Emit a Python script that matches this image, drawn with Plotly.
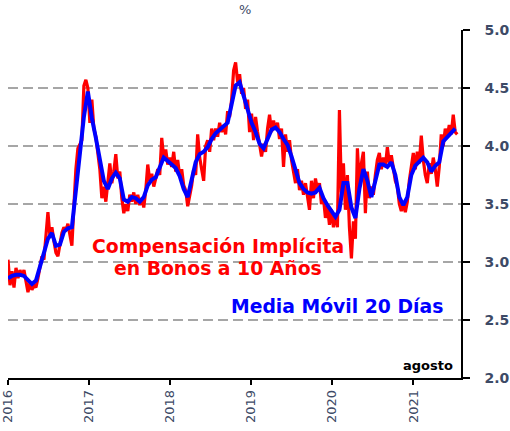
import pandas as pd
import plotly.graph_objects as go

# Compensación implícita en bonos a 10 años (%), una observación cada 9 días desde enero 2016
implicita = [
    3.02, 2.80, 2.92, 2.78, 2.95, 2.86, 2.93, 2.88, 2.93, 2.85,
    2.74, 2.82, 2.76, 2.80, 2.78, 2.86, 2.96, 3.05, 3.02, 3.20,
    3.43, 3.22, 3.30, 3.18, 3.08, 3.05, 3.15, 3.25, 3.30, 3.27,
    3.33, 3.25, 3.14, 3.48, 3.80, 3.98, 4.02, 4.05, 4.52, 4.57,
    4.50, 4.20, 4.40, 4.15, 4.08, 3.92, 3.80, 3.55, 3.65, 3.52,
    3.70, 3.85, 3.68, 3.78, 3.93, 3.72, 3.78, 3.55, 3.42, 3.50,
    3.44, 3.58, 3.52, 3.60, 3.50, 3.58, 3.49, 3.55, 3.47, 3.62,
    3.84, 3.70, 3.76, 3.65, 3.72, 3.80, 3.75, 4.07, 3.90, 3.97,
    3.84, 3.90, 3.82, 3.95, 3.78, 3.88, 3.74, 3.80, 3.66, 3.62,
    3.48, 3.56, 3.66, 3.80, 3.75, 4.10, 3.90, 3.80, 3.70, 4.00,
    4.05, 3.95, 4.15, 4.05, 4.15, 4.08, 4.20, 4.12, 4.18, 4.10,
    4.30, 4.25, 4.40, 4.65, 4.72, 4.55, 4.62, 4.45, 4.50, 4.32,
    4.40, 4.12, 4.28, 4.05, 4.25, 4.12, 4.00, 3.91, 4.02, 3.95,
    4.15, 4.27, 4.12, 4.22, 4.14, 4.20, 4.06, 4.15, 3.82, 4.10,
    3.95, 4.05, 3.88, 3.78, 3.68, 3.80, 3.62, 3.70, 3.58, 3.68,
    3.55, 3.45, 3.70, 3.55, 3.72, 3.62, 3.68, 3.50, 3.55, 3.38,
    3.48, 3.32, 3.45, 3.30, 3.42, 3.30, 4.31, 3.60, 3.85, 3.45,
    3.75, 3.30, 3.03, 3.35, 3.20, 3.98, 3.65, 3.85, 3.95, 3.42,
    3.78, 3.55, 3.65, 3.58, 3.75, 3.88, 3.94, 3.80, 3.90, 3.82,
    3.99, 3.85, 3.92, 3.80, 3.70, 3.65, 3.50, 3.44, 3.50, 3.43,
    3.52, 3.70, 3.85, 3.94, 3.80, 3.95, 3.85, 4.09, 3.88, 3.75,
    3.68, 3.85, 3.76, 3.90, 3.80, 3.65, 3.82, 4.10, 4.00, 4.15,
    4.08, 4.18, 4.10, 4.27, 4.12, 4.10,
]

# Media móvil de 20 días (%), una observación cada 18 días desde enero 2016
media_movil = [
    2.86, 2.88, 2.89, 2.89, 2.88, 2.84, 2.81, 2.84, 2.95, 3.08,
    3.20, 3.25, 3.14, 3.15, 3.26, 3.29, 3.30, 3.62, 3.94, 4.25,
    4.47, 4.24, 4.07, 3.90, 3.70, 3.63, 3.72, 3.77, 3.72, 3.54,
    3.52, 3.56, 3.55, 3.52, 3.56, 3.66, 3.71, 3.73, 3.81, 3.90,
    3.87, 3.84, 3.81, 3.74, 3.63, 3.56, 3.70, 3.86, 3.93, 3.95,
    3.99, 4.06, 4.11, 4.14, 4.16, 4.20, 4.36, 4.52, 4.55, 4.43,
    4.31, 4.20, 4.12, 4.02, 3.98, 4.06, 4.14, 4.16, 4.12, 4.06,
    4.01, 3.91, 3.79, 3.68, 3.63, 3.60, 3.59, 3.60, 3.64, 3.55,
    3.49, 3.44, 3.39, 3.45, 3.68, 3.68, 3.47, 3.38, 3.63, 3.80,
    3.70, 3.56, 3.72, 3.84, 3.84, 3.82, 3.86, 3.75, 3.56, 3.49,
    3.56, 3.75, 3.83, 3.86, 3.90, 3.86, 3.78, 3.83, 3.86, 4.04,
    4.08, 4.11, 4.15,
]

anios = ["2016", "2017", "2018", "2019", "2020", "2021"]
ticks_y = [2.0, 2.5, 3.0, 3.5, 4.0, 4.5, 5.0]

fechas_impl = pd.date_range("2016-01-01", periods=len(implicita), freq="9D")
fechas_mm = pd.date_range("2016-01-01", periods=len(media_movil), freq="18D")

TXT = "#3d4a66"
FONT = "DejaVu Sans"

fig = go.Figure()
fig.add_trace(go.Scatter(
    x=fechas_impl, y=implicita, mode="lines",
    line=dict(color="#ff0000", width=3.2), hoverinfo="skip",
))
fig.add_trace(go.Scatter(
    x=fechas_mm, y=media_movil, mode="lines",
    line=dict(color="#0000ff", width=4), hoverinfo="skip",
))

fig.update_layout(
    width=510, height=431,
    margin=dict(l=8, r=49, t=30, b=53),
    paper_bgcolor="white", plot_bgcolor="white",
    showlegend=False,
    font=dict(family=FONT, color=TXT),
    xaxis=dict(
        type="date",
        range=["2016-01-01", "2021-08-04"],
        tickvals=[f"{a}-01-01" for a in anios],
        ticktext=anios,
        tickangle=-90,
        automargin=False,
        ticks="outside", ticklen=5, tickwidth=1.5, tickcolor="black",
        showline=True, linecolor="black", linewidth=1.5,
        showgrid=False, zeroline=False,
        tickfont=dict(family=FONT, size=13, color=TXT),
    ),
    yaxis=dict(
        side="right",
        range=[2.0, 5.0],
        tickvals=ticks_y,
        ticktext=[f"{v:.1f}" for v in ticks_y],
        automargin=False,
        ticks="outside", ticklen=7, tickwidth=1.5, tickcolor="black",
        ticklabelstandoff=12,
        showline=True, linecolor="black", linewidth=1.5,
        showgrid=True, gridcolor="#a6a6a6", gridwidth=1.5, griddash="10px,5px",
        zeroline=False,
        tickfont=dict(family=FONT, size=14, color=TXT, weight="bold"),
    ),
)

fig.add_annotation(
    xref="paper", yref="paper", x=0.523, y=1.06, text="%",
    showarrow=False, font=dict(family=FONT, size=13, color=TXT),
    xanchor="center", yanchor="middle",
)
fig.add_annotation(
    xref="paper", yref="y", x=0.987, y=2.11, text="agosto",
    showarrow=False, font=dict(family=FONT, size=13, color="black", weight="bold"),
    xanchor="right", yanchor="middle",
)
fig.add_annotation(
    xref="paper", yref="y", x=0.464, y=3.13, text="Compensación Implícita",
    showarrow=False, font=dict(family=FONT, size=18.8, color="#ff0000", weight="bold"),
    xanchor="center", yanchor="middle",
)
fig.add_annotation(
    xref="paper", yref="y", x=0.464, y=2.94, text="en Bonos a 10 Años",
    showarrow=False, font=dict(family=FONT, size=18.8, color="#ff0000", weight="bold"),
    xanchor="center", yanchor="middle",
)
fig.add_annotation(
    xref="paper", yref="y", x=0.726, y=2.62, text="Media Móvil 20 Días",
    showarrow=False, font=dict(family=FONT, size=18.8, color="#0000ff", weight="bold"),
    xanchor="center", yanchor="middle",
)

fig.write_html("out.html")
